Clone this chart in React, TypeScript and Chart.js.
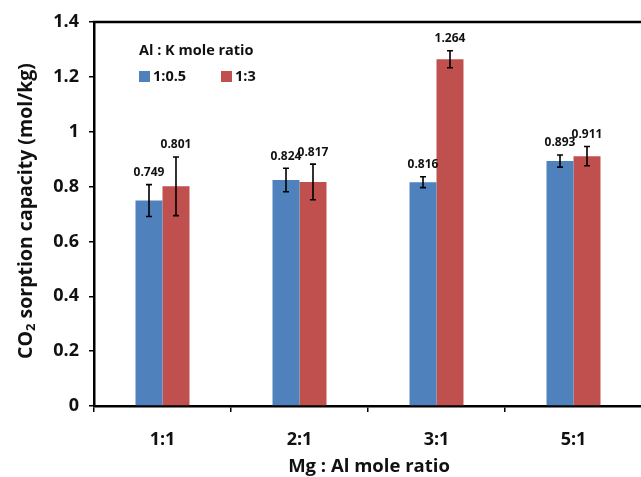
import React, { useEffect, useRef } from "react";
import { Chart, registerables } from "chart.js";

Chart.register(...registerables);

const categories = ["1:1", "2:1", "3:1", "5:1"];
const seriesLabels = ["1:0.5", "1:3"];
const values1 = [0.749, 0.824, 0.816, 0.893];
const values2 = [0.801, 0.817, 1.264, 0.911];
const errors1 = [0.058, 0.043, 0.02, 0.022];
const errors2 = [0.107, 0.065, 0.031, 0.035];
const valueLabels1 = ["0.749", "0.824", "0.816", "0.893"];
const valueLabels2 = ["0.801", "0.817", "1.264", "0.911"];
const yTickValues = [0, 0.2, 0.4, 0.6, 0.8, 1, 1.2, 1.4];
const legendTitle = "Al : K mole ratio";
const xTitle = "Mg : Al mole ratio";
const yTitleParts = ["CO", "2", " sorption capacity (mol/kg)"];

const COLORS = ["#4F81BD", "#C0504D"];
const FONT = "'Open Sans', sans-serif";
const TEXT = "#111";

export default function App() {
  const ref = useRef<HTMLCanvasElement | null>(null);

  useEffect(() => {
    if (!ref.current) return;
    const errs = [errors1, errors2];
    const vlabels = [valueLabels1, valueLabels2];

    const overlay = {
      id: "overlay",
      afterDatasetsDraw(chart: any) {
        const ctx = chart.ctx;
        const ca = chart.chartArea;
        const y = chart.scales.y;
        ctx.save();
        ctx.strokeStyle = "#000";
        ctx.lineWidth = 2.5;
        ctx.beginPath();
        ctx.moveTo(ca.left - 1, ca.top);
        ctx.lineTo(ca.right + 10, ca.top);
        ctx.stroke();
        chart.data.datasets.forEach((ds: any, di: number) => {
          const meta = chart.getDatasetMeta(di);
          meta.data.forEach((el: any, i: number) => {
            const v = ds.data[i];
            const e = errs[di][i];
            const yt = y.getPixelForValue(v + e);
            const yb = y.getPixelForValue(v - e);
            const x = el.x;
            ctx.strokeStyle = "#000";
            ctx.lineWidth = 1.6;
            ctx.beginPath();
            ctx.moveTo(x, yt);
            ctx.lineTo(x, yb);
            ctx.moveTo(x - 3, yt);
            ctx.lineTo(x + 3, yt);
            ctx.moveTo(x - 3, yb);
            ctx.lineTo(x + 3, yb);
            ctx.stroke();
            ctx.fillStyle = TEXT;
            ctx.font = `bold 12px ${FONT}`;
            ctx.textAlign = "center";
            ctx.textBaseline = "middle";
            ctx.fillText(vlabels[di][i], x, yt - 12);
          });
        });
        ctx.fillStyle = TEXT;
        ctx.font = `bold 14.5px ${FONT}`;
        ctx.textAlign = "left";
        ctx.textBaseline = "middle";
        ctx.fillText(legendTitle, 139, 51);
        const lx = [139, 221];
        chart.data.datasets.forEach((ds: any, di: number) => {
          ctx.fillStyle = ds.backgroundColor;
          ctx.fillRect(lx[di], 71, 11, 11);
          ctx.fillStyle = TEXT;
          ctx.font = `bold 14.5px ${FONT}`;
          ctx.fillText(ds.label, lx[di] + 14, 77);
        });
        ctx.font = `bold 18.5px ${FONT}`;
        ctx.textAlign = "center";
        ctx.fillText(xTitle, 369, 467);
        ctx.translate(26, 211);
        ctx.rotate(-Math.PI / 2);
        const big = `bold 19.5px ${FONT}`;
        const small = `bold 13px ${FONT}`;
        ctx.font = big;
        const w0 = ctx.measureText(yTitleParts[0]).width;
        const w2 = ctx.measureText(yTitleParts[2]).width;
        ctx.font = small;
        const w1 = ctx.measureText(yTitleParts[1]).width;
        let sx = -(w0 + w1 + w2) / 2;
        ctx.textAlign = "left";
        ctx.textBaseline = "middle";
        ctx.font = big;
        ctx.fillText(yTitleParts[0], sx, 0);
        sx += w0;
        ctx.font = small;
        ctx.fillText(yTitleParts[1], sx, 5);
        sx += w1;
        ctx.font = big;
        ctx.fillText(yTitleParts[2], sx, 0);
        ctx.restore();
      },
    };

    const chart = new Chart(ref.current, {
      type: "bar",
      data: {
        labels: categories,
        datasets: [
          { label: seriesLabels[0], data: values1, backgroundColor: COLORS[0], borderWidth: 0 },
          { label: seriesLabels[1], data: values2, backgroundColor: COLORS[1], borderWidth: 0 },
        ],
      },
      options: {
        animation: false,
        responsive: false,
        layout: { padding: { top: 22, right: 6, left: 0, bottom: 0 } },
        datasets: { bar: { categoryPercentage: 0.394, barPercentage: 1 } },
        plugins: { legend: { display: false }, tooltip: { enabled: false } },
        scales: {
          x: {
            grid: { drawOnChartArea: false, offset: true, tickLength: 6, color: "#000", lineWidth: 1.5 },
            border: { color: "#000", width: 2.5 },
            ticks: { color: TEXT, font: { family: FONT, size: 18, weight: "bold" }, padding: 17 },
            afterFit: (s: any) => { s.height = 71; },
          },
          y: {
            min: 0,
            max: 1.4,
            afterBuildTicks: (s: any) => { s.ticks = yTickValues.map((v) => ({ value: v })); },
            grid: { drawOnChartArea: false, tickLength: 5, color: "#000", lineWidth: 1.5 },
            border: { color: "#000", width: 2.5 },
            ticks: {
              color: TEXT,
              font: { family: FONT, size: 18, weight: "bold" },
              padding: 10,
              callback: (v: any) => String(Number(Number(v).toFixed(1))),
            },
            afterFit: (s: any) => { s.width = 94; },
          },
        },
      },
      plugins: [overlay],
    } as any);
    return () => chart.destroy();
  }, []);

  return (
    <div style={{ position: "fixed", left: 0, top: 0, width: 641, height: 477, overflow: "hidden", background: "#fff" }}>
      <canvas ref={ref} width={648} height={477} style={{ display: "block" }} />
    </div>
  );
}
